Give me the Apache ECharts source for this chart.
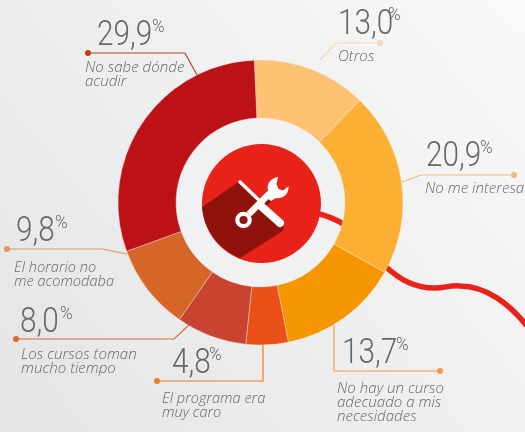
<!DOCTYPE html>
<html><head><meta charset="utf-8">
<style>html,body{margin:0;padding:0;width:525px;height:432px;overflow:hidden}#c{width:525px;height:432px}</style>
<script src="https://cdn.jsdelivr.net/npm/echarts@6/dist/echarts.min.js"></script>
</head><body><div id="c"></div>
<script>
const categories = [["Otros"],["No me interesa"],["No hay un curso","adecuado a mis","necesidades"],["El programa era","muy caro"],["Los cursos toman","mucho tiempo"],["El horario no","me acomodaba"],["No sabe dónde","acudir"]];
const values = [13.0,20.9,13.7,4.8,8.0,9.8,29.9];
const colors = ["#fdc274","#fbb034","#f59600","#ea5119","#c94331","#d66628","#bd1118"];

// annotation layout, same order as values
const numPos = [[338,36,388,8],[426,168,480,141],[342,365,396,338],[172,375,209,348],[20,334,60,307],[16,243,55,216],[97,47,152,20]];
const subPos = [[338,61,14],[425,193,14],[337,393,14],[162,403,13.5],[21,359,14],[14,272,13.5],[85,72,14]];
const leaders = [
 {c:"#f5d9b5",p:[[320,60],[336,43],[380,43]]},
 {c:"#edbd77",p:[[402,182],[421,175],[514,175]]},
 {c:"#f59a4a",p:[[334,325],[334,371],[440,371]]},
 {c:"#f07d1f",p:[[263,344],[263,381],[157,381]]},
 {c:"#dd6a2e",p:[[189,325],[174,339],[16,339]]},
 {c:"#e8925a",p:[[127,254],[102,249],[7,249]]},
 {c:"#b5421c",p:[[197,75],[185,53],[88,53]]}
];
const cx=260.5, cy=202.5;
const textColor="#67686a";
function shape(name,d){ echarts.graphic.registerShape(name,echarts.graphic.extendPath(d,{})); }
shape('ribbon',"M315,213 C335,217 355,228 370,250 C375,257 380,262 385,266 C400,280 415,288 435,288 C445,288 450,285 460,286 C485,286 510,303 530,330");
shape('longShadow',"M202,207 L240,181 L263,200 L270,182 L280,194 L264,208 L284,226 L283,231 L240,258 A59.5,59.5 0 0 1 202,207 Z");
shape('wrenchHead',"M278,177 C271,178 266,184 268,191 L264,196 L271,201 L276,198 C283,199 289,194 288.5,186.5 L283,190.5 L278.5,189 L276.5,184 Z");
function txt(s,x,base,size,opt){
  opt=opt||{};
  return {type:'text',x:x,y:base,z:20,scaleX:opt.sx||1,silent:true,style:{text:s,x:0,y:-size*(opt.dy||0.3),fill:textColor,
    font:(opt.italic?'italic ':'')+'300 '+size+'px "'+(opt.font||'Roboto')+'"',verticalAlign:'middle',align:'left'}};
}
const g=[];
g.push({type:'circle',z:-3,silent:true,shape:{cx:cx,cy:cy,r:90},style:{fill:'#f0f1f2'}});
g.push({type:'ribbon',z:-1,silent:true,style:{fill:'none',stroke:'#e9231a',lineWidth:5.5}});
g.push({type:'circle',z:10,silent:true,shape:{cx:261.5,cy:203.5,r:59.5},style:{fill:'#e9231a'}});
g.push({type:'longShadow',z:11,silent:true,style:{fill:'#8f130c'}});
// tools icon
g.push({type:'line',z:12,silent:true,shape:{x1:240,y1:182,x2:263,y2:204},style:{stroke:'#fff',lineWidth:3.5,lineCap:'round'}});
g.push({type:'line',z:12,silent:true,shape:{x1:262,y1:207,x2:280,y2:223},style:{stroke:'#fff',lineWidth:8,lineCap:'round'}});
g.push({type:'line',z:13,silent:true,shape:{x1:249,y1:214,x2:272,y2:191},style:{stroke:'#fff',lineWidth:6.5}});
g.push({type:'circle',z:13,silent:true,shape:{cx:243.5,cy:220,r:6.2},style:{fill:'none',stroke:'#fff',lineWidth:4.2}});
g.push({type:'wrenchHead',z:13,silent:true,style:{fill:'#fff'}});
// leaders and texts
values.forEach((v,i)=>{
  const L=leaders[i], last=L.p[L.p.length-1];
  g.push({type:'polyline',z:5,silent:true,shape:{points:L.p},style:{fill:'none',stroke:L.c,lineWidth:1.2}});
  g.push({type:'circle',z:6,silent:true,shape:{cx:last[0],cy:last[1],r:3},style:{fill:L.c}});
  const n=numPos[i];
  g.push(txt(v.toFixed(1).replace('.',','),n[0],n[1],35,{sx:0.85}));
  g.push(txt('%',n[2],n[3]+13,18,{sx:0.95}));
  const s=subPos[i];
  categories[i].forEach((line,k)=>g.push(txt(line,s[0],s[1]+k*14,s[2]+1.1,{italic:true,font:'Open Sans'})));
});
const chart=echarts.init(document.getElementById('c'),null,{renderer:'canvas'});
chart.setOption({
  animation:false,
  backgroundColor:new echarts.graphic.LinearGradient(1,0,0,1,[{offset:0,color:'#f9f9f9'},{offset:1,color:'#e3e4e5'}]),
  series:[{type:'pie',center:[cx,cy],radius:[84.5,142.5],startAngle:92.5,clockwise:true,silent:true,avoidLabelOverlap:false,
    label:{show:false},labelLine:{show:false},
    itemStyle:{borderColor:'#f5ece0',borderWidth:0.4},
    data:values.map((v,i)=>({name:categories[i].join(' '),value:v,itemStyle:{color:colors[i]}}))}],
  graphic:{elements:g}
});
</script></body></html>
